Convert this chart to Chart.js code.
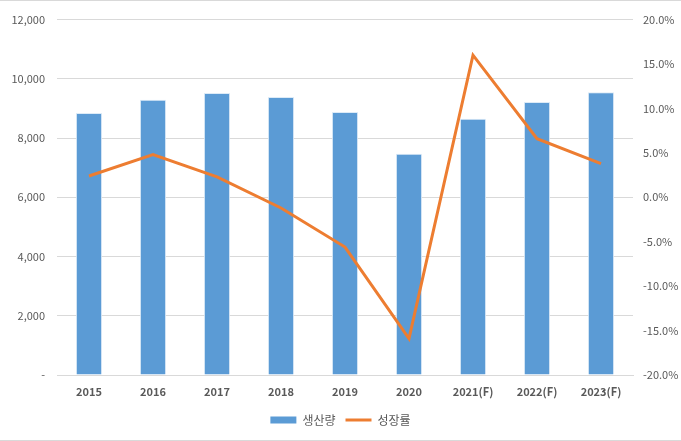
<!DOCTYPE html>
<html>
<head>
<meta charset="utf-8">
<script src="https://cdn.jsdelivr.net/npm/chart.js@4"></script>
<style>
  html, body { margin: 0; padding: 0; background: #fff; }
  #wrap { position: relative; width: 681px; height: 441px; box-sizing: border-box; border-top: 1px solid #d9d9d9; border-bottom: 1px solid #d9d9d9; }
</style>
</head>
<body>
<div id="wrap"><canvas id="myChart"></canvas></div>
<script>
const years = ['2015', '2016', '2017', '2018', '2019', '2020', '2021(F)', '2022(F)', '2023(F)'];
const production = [8850, 9290, 9520, 9390, 8880, 7470, 8650, 9220, 9550];
const growth = [2.4, 4.8, 2.3, -1.2, -5.6, -15.9, 16.0, 6.6, 3.8];

const fontFam = "'Noto Sans CJK KR', 'Noto Sans', sans-serif";
const grey = '#595959';

window.onload = (event) => {

var myChart = new Chart(
  document.getElementById('myChart'),
  {
    data: {
      labels: years,
      datasets: [
        {
          type: 'line',
          label: '성장률',
          data: growth,
          yAxisID: 'y1',
          borderColor: '#ED7D31',
          backgroundColor: '#ED7D31',
          borderWidth: 3,
          pointRadius: 0,
          tension: 0,
          order: 1
        },
        {
          type: 'bar',
          label: '생산량',
          data: production,
          yAxisID: 'y',
          backgroundColor: '#5B9BD5',
          borderColor: '#DDEBF7',
          borderWidth: 1,
          barPercentage: 0.41,
          categoryPercentage: 1,
          order: 2
        }
      ]
    },
    options: {
      responsive: true,
      maintainAspectRatio: false,
      animation: false,
      layout: { padding: { top: 12, left: 0, right: 0, bottom: 4 } },
      plugins: {
        tooltip: { enabled: false },
        legend: {
          position: 'bottom',
          reverse: true,
          labels: {
            usePointStyle: true,
            pointStyleWidth: 26,
            boxHeight: 7,
            padding: 10,
            color: grey,
            font: { family: fontFam, size: 12 },
            generateLabels: function(chart) {
              const items = Chart.defaults.plugins.legend.labels.generateLabels(chart);
              items.forEach(function(it) {
                const ds = chart.data.datasets[it.datasetIndex];
                it.pointStyle = ds.type === 'line' ? 'line' : 'rect';
                if (ds.type === 'line') { it.lineWidth = 3; it.strokeStyle = '#ED7D31'; }
                else { it.lineWidth = 0; }
              });
              return items;
            }
          }
        }
      },
      scales: {
        x: {
          grid: { display: false },
          border: { color: '#D9D9D9' },
          ticks: { color: grey, font: { family: fontFam, size: 11, weight: 'bold' }, maxRotation: 0, padding: 2 },
          afterFit: function(scale) { scale.height = 29; }
        },
        y: {
          position: 'left',
          min: 0,
          max: 12000,
          ticks: {
            stepSize: 2000,
            color: grey,
            padding: 12,
            font: { family: fontFam, size: 11 },
            callback: function(v) { return v === 0 ? '-' : v.toLocaleString('en-US'); }
          },
          grid: { color: '#D9D9D9', drawTicks: false },
          border: { display: false },
          afterFit: function(scale) { scale.width = 57; }
        },
        y1: {
          position: 'right',
          min: -20,
          max: 20,
          ticks: {
            stepSize: 5,
            color: grey,
            padding: 10,
            font: { family: fontFam, size: 11 },
            callback: function(v) { return v.toFixed(1) + '%'; }
          },
          grid: { display: false, drawTicks: false },
          border: { display: false },
          afterFit: function(scale) { scale.width = 48; }
        }
      }
    }
  }
);

};
</script>
</body>
</html>
